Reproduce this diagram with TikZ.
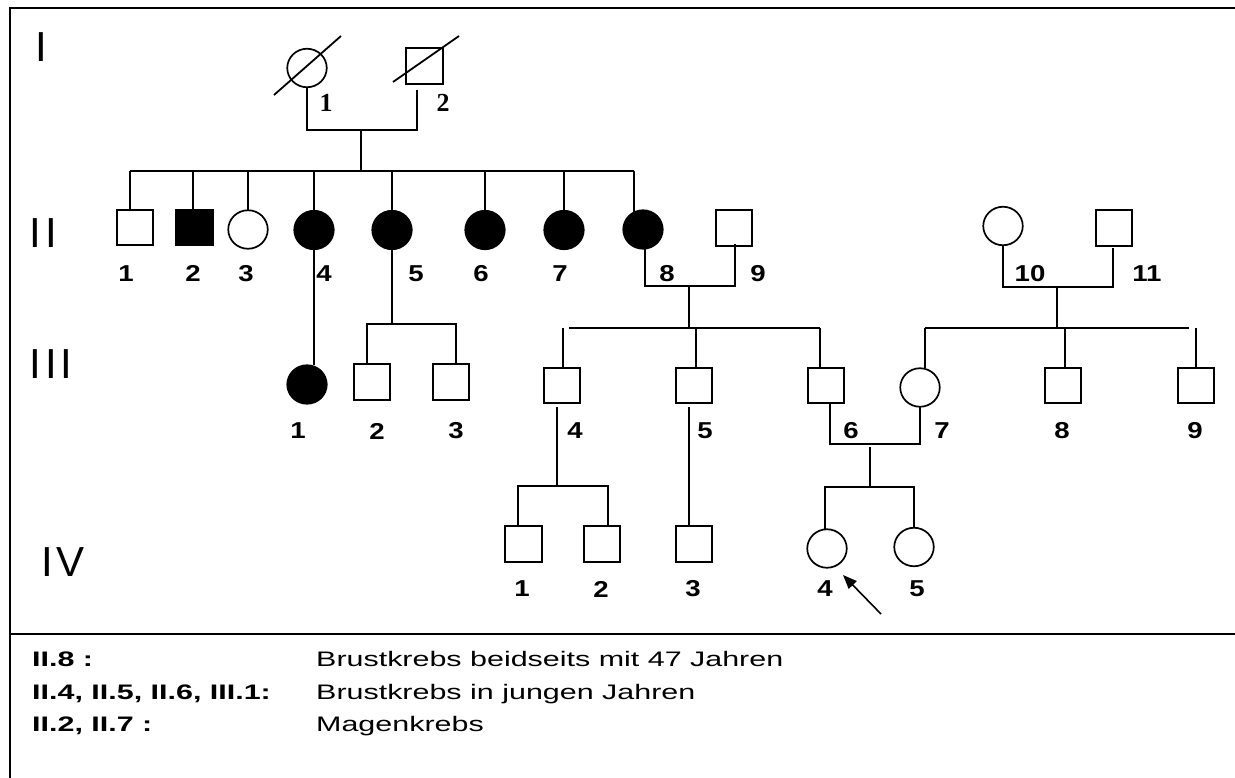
\documentclass[tikz,border=0pt]{standalone}
\usepackage{fontspec}
\setmainfont{Liberation Sans}
\newfontfamily\numfont[FakeStretch=1.2]{Liberation Sans}
\newfontfamily\legfont[FakeStretch=1.45]{Liberation Sans}
\newfontfamily\serifnumfont{Liberation Serif}
\usetikzlibrary{shapes.geometric,arrows.meta,calc}

\tikzset{
  ln/.style={line width=1.8pt},
  male/.style={draw, rectangle, line width=1.7pt, minimum width=36.5, minimum height=35.5, inner sep=0pt, outer sep=0pt},
  female/.style={draw, ellipse, line width=1.7pt, minimum width=39.5, minimum height=38.5, inner sep=0pt, outer sep=0pt},
  aff/.style={fill=black},
  num/.style={font=\numfont\bfseries\fontsize{23}{23}\selectfont, inner sep=0pt},
  snum/.style={font=\serifnumfont\bfseries\fontsize{26}{26}\selectfont, inner sep=0pt},
  gen/.style={font=\fontsize{42}{42}\selectfont, inner sep=0pt, anchor=west},
  leg/.style={font=\legfont\fontsize{21}{21}\selectfont, inner sep=0pt, anchor=base west},
  legb/.style={font=\legfont\bfseries\fontsize{21}{21}\selectfont, inner sep=0pt, anchor=base west},
}

\begin{document}
\begin{tikzpicture}[x=1pt, y=-1pt, line join=miter]
\useasboundingbox (0,0) rectangle (1235,778);

% frame and legend separator
\draw[line width=2.2pt] (10,778) -- (10,8) -- (1235,8);
\draw[line width=2.2pt] (10,634) -- (1235,634);

% generation numerals
\node[gen] (gI)   at (35,47.5)  {I};
\node[gen] (gII)  at (29,233.5) {I\kern4.2pt I};
\node[gen] (gIII) at (29,364.5) {I\kern4.2pt I\kern4.2pt I};
\node[gen] (gIV)  at (41,562)   {I\kern3.5pt V};

% ---------- generation I ----------
\node[female] (I1) at (307,68)   {};
\node[male]   (I2) at (424.5,66) {};
\draw[ln] ($(I1)+(-33,27)$) -- ($(I1)+(34,-32)$);
\draw[ln] ($(I2)+(-31.5,16)$) -- ($(I2)+(34.5,-30)$);
\node[snum] (lI1) at (326,103) {1};
\node[snum] (lI2) at (443,103) {2};

\coordinate (mI) at (361,130);
\coordinate (sI) at (361,171);
\draw[ln] (I1.south) |- (mI) -| ($(I2.south)+(-7.5,6)$);
\draw[ln] (mI) -- (sI);

% ---------- generation II ----------
\node[male]        (II1)  at (135,227.5) {};
\node[male,aff]    (II2)  at (194.5,227.5) {};
\node[female]      (II3)  at (248,229.5) {};
\node[female,aff]  (II4)  at (314,230) {};
\node[female,aff]  (II5)  at (392,230) {};
\node[female,aff]  (II6)  at (485,230) {};
\node[female,aff]  (II7)  at (564,230) {};
\node[female,aff]  (II8)  at (643,229.5) {};
\node[male]        (II9)  at (734,228) {};
\node[female]      (II10) at (1003,226) {};
\node[male]        (II11) at (1114,228) {};

\coordinate (b1) at (130,171);
\coordinate (b2) at (193,171);
\coordinate (b3) at (248,171);
\coordinate (b4) at (314,171);
\coordinate (b5) at (392,171);
\coordinate (b6) at (485,171);
\coordinate (b7) at (564,171);
\coordinate (b8) at (634,171);
\draw[ln] (b1) -- (b8);
\foreach \b/\n in {b1/II1, b2/II2, b3/II3, b4/II4, b5/II5, b6/II6, b7/II7}
  \draw[ln] (\b) -- (\b |- \n.north);
\draw[ln] (b8) -- (b8 |- II8.112);

\foreach \t/\x in {1/126, 2/193, 3/246, 4/324, 5/416, 6/481, 7/560, 8/667, 9/758, 10/1030, 11/1147}
  \node[num] (lII\t) at (\x,273.5) {\t};

% couple II.8 x II.9
\coordinate (m89) at (689,286);
\draw[ln] ($(II8.south)+(2,0)$) |- (m89) -| ($(II9.south)+(1,-2)$);
% couple II.10 x II.11
\coordinate (m1011) at (1057,287);
\draw[ln] (II10.south) |- (m1011) -| ($(II11.south)+(-1,2)$);

% ---------- generation III ----------
\node[female,aff] (III1) at (307,384.5) {};
\node[male]       (III2) at (372,382)   {};
\node[male]       (III3) at (451,382)   {};
\node[male]       (III4) at (562,385.5) {};
\node[male]       (III5) at (694,385.5) {};
\node[male]       (III6) at (826,385.5) {};
\node[female]     (III7) at (920,387.5) {};
\node[male]       (III8) at (1063,385.5) {};
\node[male]       (III9) at (1196,385.5) {};

% II.4 -> III.1
\draw[ln] (II4.south) -- (II4.south |- III1.north);
% II.5 -> III.2, III.3
\coordinate (c5) at (392,324);
\coordinate (c52) at (367,324);
\coordinate (c53) at (456,324);
\draw[ln] (II5.south) -- (c5);
\draw[ln] (c52 |- III2.north) -- (c52) -- (c53) -- (c53 |- III3.north);

% sibship of II.8 x II.9
\coordinate (s89) at (689,328);
\coordinate (d4) at (563,328);
\coordinate (d5) at (696,328);
\coordinate (d6) at (820,328);
\draw[ln] (m89) -- (s89);
\draw[ln] (569,328) -- (d6);
\draw[ln] (d4) -- (d4 |- III4.north);
\draw[ln] (d5) -- (d5 |- III5.north);
\draw[ln] (d6) -- (d6 |- III6.north);

% sibship of II.10 x II.11
\coordinate (s1011) at (1057,328);
\coordinate (d7) at (925,328);
\coordinate (d8) at (1065,328);
\coordinate (d9) at (1196,328);
\draw[ln] (m1011) -- (s1011);
\draw[ln] (d7) -- (1189,328);
\draw[ln] (d7) -- (d7 |- III7.north);
\draw[ln] (d8) -- (d8 |- III8.north);
\draw[ln] (d9) -- (d9 |- III9.north);

\foreach \t/\x in {1/298, 2/377, 3/456, 4/575, 5/705, 6/851, 7/942, 8/1062, 9/1195}
  \node[num] (lIII\t) at (\x,431) {\t};

% couple III.6 x III.7
\coordinate (m67) at (870,444);
\draw[ln] ($(III6.south)+(4,0)$) |- (m67) -| ($(III7.south)+(0,-1)$);

% ---------- generation IV ----------
\node[male]   (IV1) at (523.5,544) {};
\node[male]   (IV2) at (602,544)   {};
\node[male]   (IV3) at (694,544)   {};
\node[female] (IV4) at (827,548.5) {};
\node[female] (IV5) at (914,547)   {};

% III.4 -> IV.1, IV.2
\coordinate (c4) at (557,486);
\coordinate (e1) at (518,486);
\coordinate (e2) at (608,486);
\draw[ln] (557,407) -- (c4);
\draw[ln] (e1 |- IV1.north) -- (e1) -- (e2) -- (e2 |- IV2.north);
% III.5 -> IV.3
\coordinate (c5b) at (689,407);
\draw[ln] (c5b) -- (c5b |- IV3.north);
% III.6 x III.7 -> IV.4, IV.5
\coordinate (c67) at (870,487);
\coordinate (e4) at (825,487);
\coordinate (e5) at (914,487);
\draw[ln] (870,447) -- (c67);
\draw[ln] (e4 |- IV4.north) -- (e4) -- (e5) -- (e5 |- IV5.north);

\foreach \t/\x in {1/522, 2/601, 3/693, 4/825, 5/917}
  \node[num] (lIV\t) at (\x,589) {\t};

% proband arrow
\coordinate (pa) at (881,614);
\draw[line width=1.6pt, -{Triangle[length=14pt,width=11pt]}] (pa) -- (843,575);

% ---------- legend ----------
\node[legb] (k1) at (32,666.7) {II.8 :};
\node[legb] (k2) at (32,699)   {II.4, II.5, II.6, III.1:};
\node[legb] (k3) at (32,731)   {II.2, II.7 :};
\node[leg]  (t1) at (316,666.7) {Brustkrebs beidseits mit 47 Jahren};
\node[leg]  (t2) at (316,699)   {Brustkrebs in jungen Jahren};
\node[leg]  (t3) at (316,731)   {Magenkrebs};
\end{tikzpicture}
\end{document}
